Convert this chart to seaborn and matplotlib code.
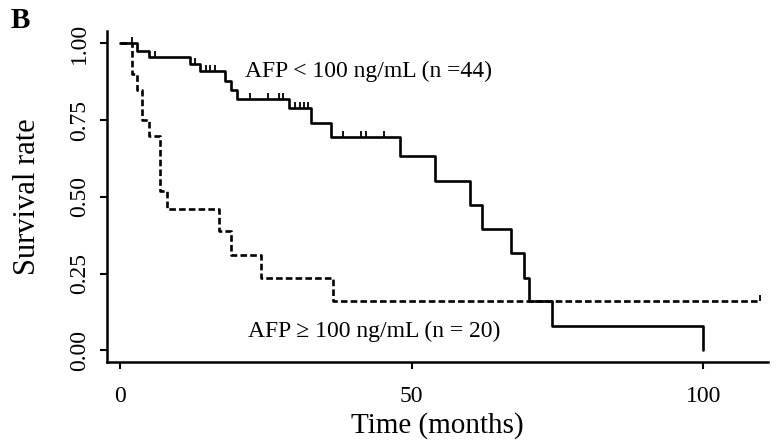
import numpy as np
import pandas as pd
import matplotlib
matplotlib.use("Agg")
import matplotlib.pyplot as plt
import seaborn as sns
from matplotlib.path import Path

# ---------------- data ----------------
low_time = [0, 2.9, 5.0, 12.0, 13.8, 18.0, 19.0, 20.0, 29.0, 32.8, 36.1,
            48.0, 54.0, 60.0, 62.0, 67.0, 69.3, 70.2, 74.0, 100.0]
low_surv = [1.0, 0.977, 0.955, 0.932, 0.909, 0.877, 0.848, 0.820, 0.789, 0.740, 0.694,
            0.634, 0.553, 0.474, 0.395, 0.317, 0.236, 0.162, 0.079, 0.0]
low_cens = [2.1, 6.0, 12.9, 14.8, 15.4, 16.3, 22.3, 25.4, 27.2, 27.9,
            30.0, 30.9, 31.6, 32.3, 38.3, 41.3, 42.2, 45.2]

high_time = [0, 2.0, 2.9, 3.8, 4.9, 6.9, 8.0, 17.0, 19.0, 24.1, 36.5, 109.8]
high_surv = [1.0, 0.90, 0.85, 0.75, 0.70, 0.52, 0.46, 0.39, 0.31, 0.235, 0.16, 0.16]
high_cens = [109.8]

x_ticks = [0, 50, 100]
y_ticks = [0.0, 0.25, 0.50, 0.75, 1.00]
y_ticklabels = ["0.00", "0.25", "0.50", "0.75", "1.00"]
label_low = "AFP < 100 ng/mL (n =44)"
label_high = "AFP \u2265 100 ng/mL (n = 20)"


def step_value(times, surv, t):
    idx = np.searchsorted(times, t, side="right") - 1
    return np.asarray(surv)[idx]


low_df = pd.DataFrame({"time": low_time, "surv": low_surv})
high_df = pd.DataFrame({"time": high_time, "surv": high_surv})
low_c = pd.DataFrame({"time": low_cens, "surv": step_value(low_time, low_surv, low_cens)})
high_c = pd.DataFrame({"time": high_cens, "surv": step_value(high_time, high_surv, high_cens)})

# ---------------- style ----------------
sns.set_theme(style="white")
plt.rcParams["font.family"] = ["Liberation Serif", "DejaVu Serif"]

fig = plt.figure(figsize=(7.77, 4.46), dpi=100)
ax = fig.add_axes([107 / 777, 1 - 362 / 446, (768 - 107) / 777, (362 - 31) / 446])

lw = 1.9
sns.lineplot(data=low_df, x="time", y="surv", drawstyle="steps-post", color="black",
             linewidth=lw, estimator=None, sort=False, ax=ax)
sns.lineplot(data=high_df, x="time", y="surv", drawstyle="steps-post", color="black",
             linewidth=lw, estimator=None, sort=False, linestyle="--", ax=ax)
ax.lines[-1].set_dashes([2.5, 1.2])

tick_marker = Path([(0, 0), (0, 1)], [Path.MOVETO, Path.LINETO])
for cdf in (low_c, high_c):
    sns.scatterplot(data=cdf, x="time", y="surv", marker=tick_marker, s=75,
                    color="black", edgecolor="black", linewidth=1.3, ax=ax, zorder=3)
for coll in ax.collections:
    coll.set_edgecolor("black")
    coll.set_facecolor("none")
    coll.set_linewidth(1.3)

ax.set_xlim(-2.23, 111.1)
ax.set_ylim(-0.0375, 1.0407)

ax.set_xticks(x_ticks)
ax.set_xticklabels([str(v) for v in x_ticks])
ax.set_yticks(y_ticks)
ax.set_yticklabels(y_ticklabels, rotation=90, va="center")

for s in ["top", "right"]:
    ax.spines[s].set_visible(False)
for s in ["left", "bottom"]:
    ax.spines[s].set_color("black")
    ax.spines[s].set_linewidth(1.8)

ax.tick_params(axis="both", direction="out", length=5, width=1.5, color="black",
               labelsize=17, labelcolor="black")
ax.tick_params(axis="x", bottom=True, pad=12)
ax.tick_params(axis="y", left=True, pad=7)

ax.set_xlabel("Time (months)", fontsize=21, color="black", va="center")
ax.xaxis.set_label_coords(0.5, (362 - 426) / 331)
ax.set_ylabel("Survival rate", fontsize=22, color="black", va="center")
ax.yaxis.set_label_coords((28 - 107) / 661, 0.5)

ax.text(21.4, 0.908, label_low, ha="left", va="center", fontsize=17, color="black")
ax.text(22.0, 0.061, label_high, ha="left", va="center", fontsize=17, color="black")

fig.text(11 / 777, 1 - 21 / 446, "B", fontsize=21, fontweight="bold", color="black",
         ha="left", va="center")

ax.grid(False)
fig.savefig("out.png", dpi=100)
